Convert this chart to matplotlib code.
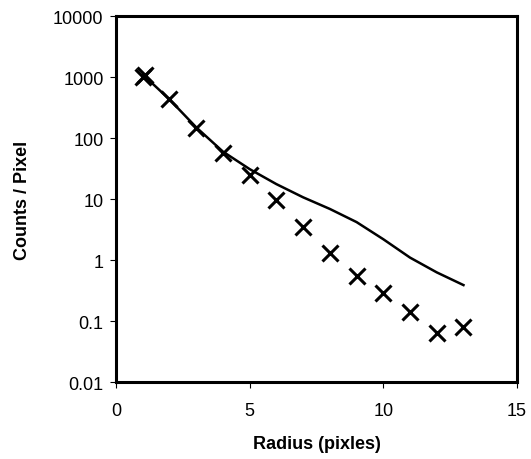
import numpy as np
import matplotlib
matplotlib.use("Agg")
import matplotlib.pyplot as plt
from matplotlib.ticker import FixedLocator, FixedFormatter, NullLocator

plt.rcParams["font.family"] = ["Liberation Sans", "DejaVu Sans"]

# measured counts per pixel (crosses)
radius_pts = [1, 1.1, 2, 3, 4, 5, 6, 7, 8, 9, 10, 11, 12, 13]
counts_pts = [1000, 1100, 440, 145, 58, 25, 9.6, 3.5, 1.3, 0.54, 0.29, 0.14, 0.063, 0.079]

# model profile (solid curve)
radius_fit = [1, 2, 3, 4, 5, 6, 7, 8, 9, 10, 11, 12, 13]
counts_fit = [1100, 430, 150, 60, 31, 17.6, 10.7, 6.9, 4.2, 2.2, 1.1, 0.63, 0.39]

y_ticks = [0.01, 0.1, 1, 10, 100, 1000, 10000]
y_labels = ["0.01", "0.1", "1", "10", "100", "1000", "10000"]
x_ticks = [0, 5, 10, 15]

fig = plt.figure(figsize=(5.31, 4.60), dpi=100)
ax = fig.add_axes([0.2185, 0.167, 0.755, 0.796])

ax.plot(radius_fit, counts_fit, color="black", linewidth=1.8, zorder=2)
ax.plot(radius_pts, counts_pts, linestyle="none", marker="x", color="black",
        markersize=11, markeredgewidth=2.2, zorder=3)

ax.set_yscale("log")
ax.set_ylim(0.01, 10000)
ax.set_xlim(0, 15)
ax.yaxis.set_major_locator(FixedLocator(y_ticks))
ax.yaxis.set_major_formatter(FixedFormatter(y_labels))
ax.yaxis.set_minor_locator(NullLocator())
ax.set_xticks(x_ticks)
ax.set_xticklabels([str(t) for t in x_ticks])

for s in ax.spines.values():
    s.set_linewidth(2.2)
ax.tick_params(axis="both", direction="out", length=4, width=0.8,
               labelsize=13)
ax.tick_params(axis="x", pad=10)
ax.tick_params(axis="y", pad=5)

ax.set_xlabel("Radius (pixles)", fontsize=13, fontweight="bold", labelpad=12)
ax.set_ylabel("Counts / Pixel", fontsize=13, fontweight="bold", labelpad=16)

fig.savefig("out.png", dpi=100)
